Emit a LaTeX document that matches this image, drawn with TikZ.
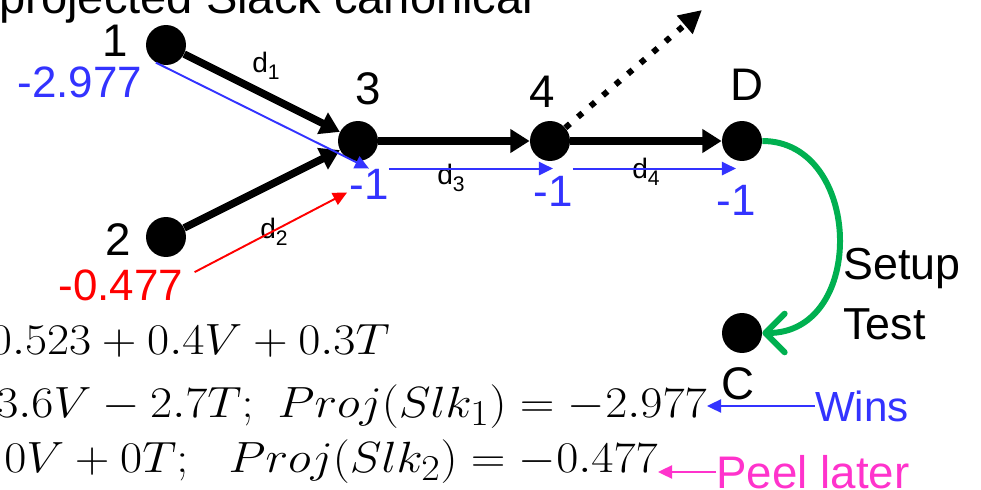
\documentclass[tikz,border=0pt]{standalone}
\usepackage{fontspec}
\usepackage{graphicx}
\setmainfont{Liberation Sans}
\usetikzlibrary{arrows.meta,calc}
\definecolor{SlackBlue}{RGB}{51,51,255}
\definecolor{SlackRed}{RGB}{255,0,0}
\definecolor{PeelPink}{RGB}{255,51,204}
\definecolor{TestGreen}{RGB}{0,176,80}
\newcommand{\dsub}[1]{d\raisebox{-4pt}{\fontsize{12}{14}\selectfont #1}}
\newcommand{\wideeq}[1]{\scalebox{1.10}[1]{$#1$}}
\tikzset{
  dot/.style={circle,fill=black,minimum size=0.8cm,inner sep=0pt},
  vlabel/.style={inner sep=0pt,font=\fontsize{26}{30}\selectfont},
  slack/.style={inner sep=0pt,font=\fontsize{25}{30}\selectfont},
  dlabel/.style={inner sep=0pt,font=\fontsize{16}{19}\selectfont},
  eqn/.style={inner sep=0pt,anchor=base east,font=\fontsize{30}{35}\selectfont},
  headline/.style={inner sep=0pt,anchor=base west,font=\fontsize{26.8}{30}\selectfont},
  flow/.style={-{Triangle[length=11pt,width=13pt]},line width=4.3pt},
  dotflow/.style={-{Triangle[length=13pt,width=13pt]},line width=3.4pt,
    dash pattern=on 3.4pt off 6pt},
  slackarrow/.style={-{Triangle[length=8pt,width=7.5pt]},line width=1.1pt},
  testarc/.style={-{Straight Barb[length=11pt,width=22pt,round]},
    line width=3.4pt,TestGreen}
}

\begin{document}
\begin{tikzpicture}[x=0.02cm,y=-0.02cm]
\useasboundingbox (0,0) rectangle (981,490);

% heading, cut by the frame
\node[headline] (head) at (-1,13) {projected Slack canonical};

% network
\node[dot] (n1) at (166,45) {};
\node[dot] (n2) at (166,237) {};
\node[dot] (n3) at (358,141) {};
\node[dot] (n4) at (550,141) {};
\node[dot] (nD) at (742,141) {};
\node[dot] (nC) at (742,333) {};
\coordinate (far) at (702,10);

\node[vlabel] (l1) at (115,41) {1};
\node[vlabel] (l2) at (118,240) {2};
\node[vlabel] (l3) at (368,89) {3};
\node[vlabel] (l4) at (542,92) {4};
\node[vlabel] (lD) at (747,85) {D};
\node[vlabel] (lC) at (738,384) {C};

\node[dlabel] (d1) at (266,66) {\dsub{1}};
\node[dlabel] (d2) at (274,232) {\dsub{2}};
\node[dlabel] (d3) at (451,178) {\dsub{3}};
\node[dlabel] (d4) at (646,172) {\dsub{4}};

\draw[flow] (n1) -- (n3);
\draw[flow] (n2) -- (n3);
\draw[flow] (n3) -- (n4);
\draw[flow] (n4) -- (nD);
\draw[dotflow] (n4) -- (far);

% projected slacks
\node[slack,text=SlackBlue] (w1) at (80,82) {-2.977};
\node[slack,text=SlackRed] (w2) at (121,285) {-0.477};
\node[slack,text=SlackBlue] (m3) at (369,184) {-1};
\node[slack,text=SlackBlue] (m4) at (553,191) {-1};
\node[slack,text=SlackBlue] (mD) at (736,200) {-1};

\draw[slackarrow,SlackBlue] (n1.240) -- (m3.north);
\draw[slackarrow,SlackBlue] (m3.north east) -- (m3.north east -| m4.north);
\draw[slackarrow,SlackBlue] (m3.north east -| m4.north east) -- (m3.north east -| mD.north);
\draw[slackarrow,SlackRed] ($(w2.north east)+(11,3)$) -- ($(m3.south west)+(-2,-7)$);

% setup test
\draw[testarc] (nD.east) .. controls +(100,0) and +(105,0) .. (nC.east);
\node[inner sep=0pt,anchor=north west,align=left,font=\fontsize{25.5}{34}\selectfont]
  (setup) at (843,248) {Setup\\Test};

% slack expressions, cut by the frame
\node[eqn] (eq1) at (390,354) {\wideeq{0.523+0.4V+0.3T}};
\node[eqn] (eq2) at (707,417) {\wideeq{3.6V-2.7T;\ Proj(Slk_1)=-2.977}};
\node[eqn] (eq3) at (658,472) {\wideeq{0V+0T;\ \ Proj(Slk_2)=-0.477}};

\node[slack,font=\fontsize{24}{28}\selectfont,text=SlackBlue] (wins) at (862,406) {Wins};
\node[slack,font=\fontsize{26}{30}\selectfont,text=PeelPink] (peel) at (813,472) {Peel later};
\draw[slackarrow,SlackBlue] (wins.west) -- (wins.west -| eq2.east);
\draw[slackarrow,PeelPink] (peel.west) -- (peel.west -| eq3.east);
\end{tikzpicture}
\end{document}
